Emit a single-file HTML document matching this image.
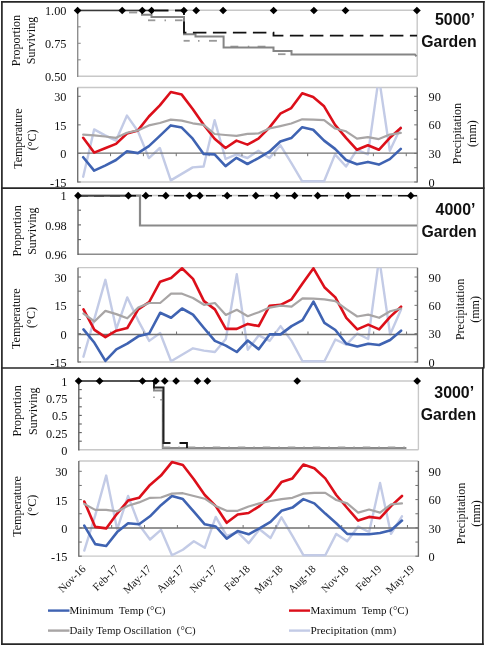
<!DOCTYPE html><html><head><meta charset="utf-8"><style>html,body{margin:0;padding:0;background:#fff;}svg{display:block;will-change:transform;}</style></head><body>
<svg width="486" height="647" viewBox="0 0 486 647">
<rect x="0" y="0" width="486" height="647" fill="#fff"/>
<line x1="77.7" y1="10.3" x2="417.2" y2="10.3" stroke="#c8c8c8" stroke-width="1.6" />
<line x1="417.2" y1="10.3" x2="417.2" y2="76.3" stroke="#c8c8c8" stroke-width="1.4" />
<line x1="77.7" y1="76.3" x2="417.2" y2="76.3" stroke="#c8c8c8" stroke-width="1.4" />
<line x1="77.7" y1="10.3" x2="77.7" y2="76.9" stroke="#8e8e8e" stroke-width="1.4" />
<line x1="77.7" y1="10.3" x2="80.7" y2="10.3" stroke="#8e8e8e" stroke-width="1.1" />
<text x="66.5" y="15.2" font-family='"Liberation Serif", serif' font-size="12.3" text-anchor="end" font-weight="normal" fill="#111" >1.00</text>
<line x1="77.7" y1="43.3" x2="80.7" y2="43.3" stroke="#8e8e8e" stroke-width="1.1" />
<text x="66.5" y="48.2" font-family='"Liberation Serif", serif' font-size="12.3" text-anchor="end" font-weight="normal" fill="#111" >0.75</text>
<text x="66.5" y="81.2" font-family='"Liberation Serif", serif' font-size="12.3" text-anchor="end" font-weight="normal" fill="#111" >0.50</text>
<line x1="77.7" y1="26.8" x2="80.7" y2="26.8" stroke="#8e8e8e" stroke-width="1.1" />
<line x1="77.7" y1="59.8" x2="80.7" y2="59.8" stroke="#8e8e8e" stroke-width="1.1" />
<line x1="77.7" y1="87.5" x2="417.2" y2="87.5" stroke="#c8c8c8" stroke-width="1.3" />
<line x1="77.7" y1="182" x2="417.2" y2="182" stroke="#c8c8c8" stroke-width="1.3" />
<line x1="77.7" y1="87.5" x2="77.7" y2="182.6" stroke="#717171" stroke-width="1.4" />
<line x1="417.2" y1="87.5" x2="417.2" y2="182.6" stroke="#717171" stroke-width="1.4" />
<line x1="77.7" y1="96.3" x2="80.7" y2="96.3" stroke="#717171" stroke-width="1" />
<line x1="414.2" y1="96.3" x2="417.2" y2="96.3" stroke="#717171" stroke-width="1" />
<line x1="414.2" y1="110.58" x2="417.2" y2="110.58" stroke="#717171" stroke-width="1" />
<line x1="77.7" y1="124.87" x2="80.7" y2="124.87" stroke="#717171" stroke-width="1" />
<line x1="414.2" y1="124.87" x2="417.2" y2="124.87" stroke="#717171" stroke-width="1" />
<line x1="414.2" y1="139.15" x2="417.2" y2="139.15" stroke="#717171" stroke-width="1" />
<line x1="77.7" y1="153.43" x2="80.7" y2="153.43" stroke="#717171" stroke-width="1" />
<line x1="414.2" y1="153.43" x2="417.2" y2="153.43" stroke="#717171" stroke-width="1" />
<line x1="414.2" y1="167.72" x2="417.2" y2="167.72" stroke="#717171" stroke-width="1" />
<line x1="77.7" y1="182" x2="80.7" y2="182" stroke="#717171" stroke-width="1" />
<line x1="414.2" y1="182" x2="417.2" y2="182" stroke="#717171" stroke-width="1" />
<text x="66.5" y="101.2" font-family='"Liberation Serif", serif' font-size="12.3" text-anchor="end" font-weight="normal" fill="#111" >30</text>
<text x="66.5" y="129.77" font-family='"Liberation Serif", serif' font-size="12.3" text-anchor="end" font-weight="normal" fill="#111" >15</text>
<text x="66.5" y="158.33" font-family='"Liberation Serif", serif' font-size="12.3" text-anchor="end" font-weight="normal" fill="#111" >0</text>
<text x="66.5" y="186.9" font-family='"Liberation Serif", serif' font-size="12.3" text-anchor="end" font-weight="normal" fill="#111" >-15</text>
<text x="428.5" y="100.9" font-family='"Liberation Serif", serif' font-size="12.3" text-anchor="start" font-weight="normal" fill="#111" >90</text>
<text x="428.5" y="129.47" font-family='"Liberation Serif", serif' font-size="12.3" text-anchor="start" font-weight="normal" fill="#111" >60</text>
<text x="428.5" y="158.03" font-family='"Liberation Serif", serif' font-size="12.3" text-anchor="start" font-weight="normal" fill="#111" >30</text>
<text x="428.5" y="186.6" font-family='"Liberation Serif", serif' font-size="12.3" text-anchor="start" font-weight="normal" fill="#111" >0</text>
<clipPath id="c0"><rect x="77.7" y="87.5" width="339.5" height="96.5"/></clipPath>
<polyline points="83.18,176.7 94.13,129.4 105.08,135.4 116.03,140.6 126.98,115.6 137.93,131.3 148.89,158.1 159.84,148 170.79,180.4 181.74,173.9 192.69,167.4 203.64,166.5 214.6,120.2 225.55,159 236.5,154.4 247.45,158 258.4,150.7 269.35,158.1 280.3,145.2 291.26,162.8 302.21,181.3 313.16,181.3 324.11,181.3 335.06,154.4 346.01,166.5 356.97,149.8 367.92,154.4 378.87,77 389.82,150.7 400.77,127.6" fill="none" stroke="#c3cbe6" stroke-width="2.4" stroke-linejoin="round" stroke-linecap="round" clip-path="url(#c0)"/>
<line x1="77.7" y1="153.2" x2="417.2" y2="153.2" stroke="#717171" stroke-width="1.3" />
<line x1="110.55" y1="153.2" x2="110.55" y2="156.2" stroke="#717171" stroke-width="1" />
<line x1="143.41" y1="153.2" x2="143.41" y2="156.2" stroke="#717171" stroke-width="1" />
<line x1="176.26" y1="153.2" x2="176.26" y2="156.2" stroke="#717171" stroke-width="1" />
<line x1="209.12" y1="153.2" x2="209.12" y2="156.2" stroke="#717171" stroke-width="1" />
<line x1="241.97" y1="153.2" x2="241.97" y2="156.2" stroke="#717171" stroke-width="1" />
<line x1="274.83" y1="153.2" x2="274.83" y2="156.2" stroke="#717171" stroke-width="1" />
<line x1="307.68" y1="153.2" x2="307.68" y2="156.2" stroke="#717171" stroke-width="1" />
<line x1="340.54" y1="153.2" x2="340.54" y2="156.2" stroke="#717171" stroke-width="1" />
<line x1="373.39" y1="153.2" x2="373.39" y2="156.2" stroke="#717171" stroke-width="1" />
<line x1="406.25" y1="153.2" x2="406.25" y2="156.2" stroke="#717171" stroke-width="1" />
<polyline points="83.18,157.2 94.13,170.6 105.08,165.6 116.03,160 126.98,151.3 137.93,153.1 148.89,146.1 159.84,135.9 170.79,125.4 181.74,127.6 192.69,138.7 203.64,153.9 214.6,154.4 225.55,166.1 236.5,157.8 247.45,164 258.4,158.1 269.35,151.7 280.3,141.5 291.26,138.1 302.21,127.2 313.16,129.8 324.11,140.6 335.06,148.9 346.01,160 356.97,164.3 367.92,161.9 378.87,164.6 389.82,159.1 400.77,148.9" fill="none" stroke="#3f63b2" stroke-width="2.6" stroke-linejoin="round" stroke-linecap="round" />
<polyline points="83.18,137.8 94.13,152.6 105.08,148.3 116.03,143.9 126.98,133.5 137.93,130.4 148.89,116.5 159.84,105.4 170.79,92 181.74,94.6 192.69,109 203.64,124.8 214.6,138.7 225.55,148 236.5,140.6 247.45,144.6 258.4,138.7 269.35,127.6 280.3,113.7 291.26,108.1 302.21,93.3 313.16,97 324.11,106.3 335.06,124.8 346.01,137.8 356.97,149.8 367.92,145.2 378.87,149.8 389.82,137.8 400.77,128" fill="none" stroke="#dc0f1a" stroke-width="2.6" stroke-linejoin="round" stroke-linecap="round" />
<polyline points="83.18,134.6 94.13,135.4 105.08,136.5 116.03,137.8 126.98,132.8 137.93,130.4 148.89,125.4 159.84,123 170.79,119.6 181.74,120.6 192.69,123.3 203.64,124.8 214.6,134 225.55,135 236.5,135.9 247.45,133.9 258.4,133.5 269.35,128.5 280.3,126.1 291.26,123.5 302.21,119.3 313.16,119.6 324.11,120.2 335.06,128.5 346.01,131.3 356.97,138.7 367.92,137.2 378.87,139.1 389.82,134.6 400.77,132.8" fill="none" stroke="#a8a5a5" stroke-width="2.2" stroke-linejoin="round" stroke-linecap="round" />
<text x="0" y="0" font-family='"Liberation Serif", serif' font-size="12" text-anchor="middle" font-weight="normal" fill="#111" transform="translate(20.3 40.55) rotate(-90)">Proportion</text>
<text x="0" y="0" font-family='"Liberation Serif", serif' font-size="12" text-anchor="middle" font-weight="normal" fill="#111" transform="translate(34.5 40.5) rotate(-90)">Surviving</text>
<text x="0" y="0" font-family='"Liberation Serif", serif' font-size="12" text-anchor="middle" font-weight="normal" fill="#111" transform="translate(21.6 138.6) rotate(-90)">Temperature</text>
<text x="0" y="0" font-family='"Liberation Serif", serif' font-size="12" text-anchor="middle" font-weight="normal" fill="#111" transform="translate(36.4 139.8) rotate(-90)">(&#176;C)</text>
<text x="0" y="0" font-family='"Liberation Serif", serif' font-size="12" text-anchor="middle" font-weight="normal" fill="#111" transform="translate(460.5 133.6) rotate(-90)">Precipitation</text>
<text x="0" y="0" font-family='"Liberation Serif", serif' font-size="12" text-anchor="middle" font-weight="normal" fill="#111" transform="translate(475.5 133.6) rotate(-90)">(mm)</text>
<text x="435" y="24.5" font-family='"Liberation Sans", sans-serif' font-size="16.3" text-anchor="start" font-weight="bold" fill="#111" textLength="39.8" lengthAdjust="spacingAndGlyphs">5000&#8217;</text>
<text x="421.3" y="47.2" font-family='"Liberation Sans", sans-serif' font-size="15.9" text-anchor="start" font-weight="bold" fill="#111" textLength="55.4" lengthAdjust="spacingAndGlyphs">Garden</text>
<line x1="1" y1="188.2" x2="484.5" y2="188.2" stroke="#262626" stroke-width="1.7" />
<line x1="78" y1="195.5" x2="417.5" y2="195.5" stroke="#c8c8c8" stroke-width="1.6" />
<line x1="417.5" y1="195.5" x2="417.5" y2="254.3" stroke="#c8c8c8" stroke-width="1.4" />
<line x1="78" y1="254.3" x2="417.5" y2="254.3" stroke="#8c8c8c" stroke-width="1.4" />
<line x1="78" y1="195.5" x2="78" y2="254.9" stroke="#5f5f5f" stroke-width="1.4" />
<line x1="78" y1="195.5" x2="81" y2="195.5" stroke="#5f5f5f" stroke-width="1.1" />
<text x="66.75" y="200.4" font-family='"Liberation Serif", serif' font-size="12.3" text-anchor="end" font-weight="normal" fill="#111" >1</text>
<line x1="78" y1="224.9" x2="81" y2="224.9" stroke="#5f5f5f" stroke-width="1.1" />
<text x="66.75" y="229.8" font-family='"Liberation Serif", serif' font-size="12.3" text-anchor="end" font-weight="normal" fill="#111" >0.98</text>
<text x="66.75" y="259.2" font-family='"Liberation Serif", serif' font-size="12.3" text-anchor="end" font-weight="normal" fill="#111" >0.96</text>
<line x1="78" y1="210.2" x2="81" y2="210.2" stroke="#5f5f5f" stroke-width="1.1" />
<line x1="78" y1="239.6" x2="81" y2="239.6" stroke="#5f5f5f" stroke-width="1.1" />
<line x1="78" y1="267.7" x2="417.5" y2="267.7" stroke="#c8c8c8" stroke-width="1.3" />
<line x1="78" y1="362" x2="417.5" y2="362" stroke="#c8c8c8" stroke-width="1.3" />
<line x1="78" y1="267.7" x2="78" y2="362.6" stroke="#717171" stroke-width="1.4" />
<line x1="417.5" y1="267.7" x2="417.5" y2="362.6" stroke="#717171" stroke-width="1.4" />
<line x1="78" y1="277" x2="81" y2="277" stroke="#717171" stroke-width="1" />
<line x1="414.5" y1="277" x2="417.5" y2="277" stroke="#717171" stroke-width="1" />
<line x1="78" y1="291.17" x2="81" y2="291.17" stroke="#717171" stroke-width="1" />
<line x1="414.5" y1="291.17" x2="417.5" y2="291.17" stroke="#717171" stroke-width="1" />
<line x1="78" y1="305.33" x2="81" y2="305.33" stroke="#717171" stroke-width="1" />
<line x1="414.5" y1="305.33" x2="417.5" y2="305.33" stroke="#717171" stroke-width="1" />
<line x1="78" y1="319.5" x2="81" y2="319.5" stroke="#717171" stroke-width="1" />
<line x1="414.5" y1="319.5" x2="417.5" y2="319.5" stroke="#717171" stroke-width="1" />
<line x1="78" y1="333.67" x2="81" y2="333.67" stroke="#717171" stroke-width="1" />
<line x1="414.5" y1="333.67" x2="417.5" y2="333.67" stroke="#717171" stroke-width="1" />
<line x1="78" y1="347.83" x2="81" y2="347.83" stroke="#717171" stroke-width="1" />
<line x1="414.5" y1="347.83" x2="417.5" y2="347.83" stroke="#717171" stroke-width="1" />
<line x1="78" y1="362" x2="81" y2="362" stroke="#717171" stroke-width="1" />
<line x1="414.5" y1="362" x2="417.5" y2="362" stroke="#717171" stroke-width="1" />
<text x="66.75" y="281.9" font-family='"Liberation Serif", serif' font-size="12.3" text-anchor="end" font-weight="normal" fill="#111" >30</text>
<text x="66.75" y="310.23" font-family='"Liberation Serif", serif' font-size="12.3" text-anchor="end" font-weight="normal" fill="#111" >15</text>
<text x="66.75" y="338.57" font-family='"Liberation Serif", serif' font-size="12.3" text-anchor="end" font-weight="normal" fill="#111" >0</text>
<text x="66.75" y="366.9" font-family='"Liberation Serif", serif' font-size="12.3" text-anchor="end" font-weight="normal" fill="#111" >-15</text>
<text x="428.5" y="281.6" font-family='"Liberation Serif", serif' font-size="12.3" text-anchor="start" font-weight="normal" fill="#111" >90</text>
<text x="428.5" y="309.93" font-family='"Liberation Serif", serif' font-size="12.3" text-anchor="start" font-weight="normal" fill="#111" >60</text>
<text x="428.5" y="338.27" font-family='"Liberation Serif", serif' font-size="12.3" text-anchor="start" font-weight="normal" fill="#111" >30</text>
<text x="428.5" y="366.6" font-family='"Liberation Serif", serif' font-size="12.3" text-anchor="start" font-weight="normal" fill="#111" >0</text>
<clipPath id="c1"><rect x="78" y="267.7" width="339.5" height="96.3"/></clipPath>
<polyline points="83.48,356.7 94.43,318.7 105.38,279.8 116.33,328.9 127.28,297.4 138.23,320.6 149.19,340.9 160.14,333 171.09,361.3 182.04,354.8 192.99,348.3 203.94,350.6 214.9,352 225.85,339 236.8,274.3 247.75,349.7 258.7,335.4 269.65,340.9 280.6,326.1 291.56,340.9 302.51,361.3 313.46,361.3 324.41,361.3 335.36,339.5 346.31,344.6 357.27,333.5 368.22,339 379.17,258 390.12,334.4 401.07,309.4" fill="none" stroke="#c3cbe6" stroke-width="2.4" stroke-linejoin="round" stroke-linecap="round" clip-path="url(#c1)"/>
<line x1="78" y1="334.5" x2="417.5" y2="334.5" stroke="#717171" stroke-width="1.3" />
<line x1="110.85" y1="331.5" x2="110.85" y2="334.5" stroke="#717171" stroke-width="1" />
<line x1="143.71" y1="331.5" x2="143.71" y2="334.5" stroke="#717171" stroke-width="1" />
<line x1="176.56" y1="331.5" x2="176.56" y2="334.5" stroke="#717171" stroke-width="1" />
<line x1="209.42" y1="331.5" x2="209.42" y2="334.5" stroke="#717171" stroke-width="1" />
<line x1="242.27" y1="331.5" x2="242.27" y2="334.5" stroke="#717171" stroke-width="1" />
<line x1="275.13" y1="331.5" x2="275.13" y2="334.5" stroke="#717171" stroke-width="1" />
<line x1="307.98" y1="331.5" x2="307.98" y2="334.5" stroke="#717171" stroke-width="1" />
<line x1="340.84" y1="331.5" x2="340.84" y2="334.5" stroke="#717171" stroke-width="1" />
<line x1="373.69" y1="331.5" x2="373.69" y2="334.5" stroke="#717171" stroke-width="1" />
<line x1="406.55" y1="331.5" x2="406.55" y2="334.5" stroke="#717171" stroke-width="1" />
<polyline points="83.48,329.4 94.43,342.8 105.38,360.9 116.33,349.3 127.28,343.7 138.23,336.3 149.19,333.5 160.14,312.8 171.09,317.8 182.04,308.5 192.99,314.6 203.94,328 214.9,340.9 225.85,345.6 236.8,352 247.75,340.5 258.7,349.3 269.65,334.4 280.6,334.4 291.56,326.1 302.51,320.2 313.46,301.7 324.41,322.8 335.36,330 346.31,343.7 357.27,346.5 368.22,343.7 379.17,345 390.12,340 401.07,330.7" fill="none" stroke="#3f63b2" stroke-width="2.6" stroke-linejoin="round" stroke-linecap="round" />
<polyline points="83.48,309.4 94.43,329.8 105.38,337.2 116.33,330.7 127.28,328 138.23,309.4 149.19,302 160.14,281.7 171.09,278 182.04,268.3 192.99,278.9 203.94,301.1 214.9,309.4 225.85,328.9 236.8,328.9 247.75,323.9 258.7,326.1 269.65,305.7 280.6,304.8 291.56,299.3 302.51,283.5 313.46,268.3 324.41,287.2 335.36,297.4 346.31,317.8 357.27,329.4 368.22,324.6 379.17,329.4 390.12,316.9 401.07,306.7" fill="none" stroke="#dc0f1a" stroke-width="2.6" stroke-linejoin="round" stroke-linecap="round" />
<polyline points="83.48,313.5 94.43,321.5 105.38,310.9 116.33,314.1 127.28,318.3 138.23,307.6 149.19,303 160.14,303 171.09,293.7 182.04,293.7 192.99,298 203.94,304.8 214.9,303 225.85,315 236.8,309.8 247.75,316.2 258.7,312.2 269.65,307.6 280.6,305.7 291.56,306.7 302.51,298.3 313.46,298.7 324.41,299.3 335.36,301.1 346.31,309.1 357.27,316.5 368.22,314.6 379.17,317.8 390.12,311.3 401.07,308.5" fill="none" stroke="#a8a5a5" stroke-width="2.2" stroke-linejoin="round" stroke-linecap="round" />
<text x="0" y="0" font-family='"Liberation Serif", serif' font-size="12" text-anchor="middle" font-weight="normal" fill="#111" transform="translate(20.7 230.9) rotate(-90)">Proportion</text>
<text x="0" y="0" font-family='"Liberation Serif", serif' font-size="12" text-anchor="middle" font-weight="normal" fill="#111" transform="translate(35.5 231.2) rotate(-90)">Surviving</text>
<text x="0" y="0" font-family='"Liberation Serif", serif' font-size="12" text-anchor="middle" font-weight="normal" fill="#111" transform="translate(20.4 318.65) rotate(-90)">Temperature</text>
<text x="0" y="0" font-family='"Liberation Serif", serif' font-size="12" text-anchor="middle" font-weight="normal" fill="#111" transform="translate(34.9 317.5) rotate(-90)">(&#176;C)</text>
<text x="0" y="0" font-family='"Liberation Serif", serif' font-size="12" text-anchor="middle" font-weight="normal" fill="#111" transform="translate(464.2 309.4) rotate(-90)">Precipitation</text>
<text x="0" y="0" font-family='"Liberation Serif", serif' font-size="12" text-anchor="middle" font-weight="normal" fill="#111" transform="translate(479 309.4) rotate(-90)">(mm)</text>
<text x="435.6" y="214.5" font-family='"Liberation Sans", sans-serif' font-size="16.3" text-anchor="start" font-weight="bold" fill="#111" textLength="39.8" lengthAdjust="spacingAndGlyphs">4000&#8217;</text>
<text x="421.4" y="236.9" font-family='"Liberation Sans", sans-serif' font-size="15.9" text-anchor="start" font-weight="bold" fill="#111" textLength="55.4" lengthAdjust="spacingAndGlyphs">Garden</text>
<line x1="1" y1="368" x2="483.7" y2="368" stroke="#262626" stroke-width="1.7" />
<line x1="78.8" y1="381" x2="418.4" y2="381" stroke="#c8c8c8" stroke-width="1.6" />
<line x1="418.4" y1="381" x2="418.4" y2="449.8" stroke="#c8c8c8" stroke-width="1.4" />
<line x1="78.8" y1="449.8" x2="418.4" y2="449.8" stroke="#c8c8c8" stroke-width="1.4" />
<line x1="78.8" y1="381" x2="78.8" y2="450.4" stroke="#5f5f5f" stroke-width="1.4" />
<line x1="78.8" y1="381" x2="81.8" y2="381" stroke="#5f5f5f" stroke-width="1.1" />
<text x="67.44" y="385.9" font-family='"Liberation Serif", serif' font-size="12.3" text-anchor="end" font-weight="normal" fill="#111" >1</text>
<line x1="78.8" y1="398.2" x2="81.8" y2="398.2" stroke="#5f5f5f" stroke-width="1.1" />
<text x="67.44" y="403.1" font-family='"Liberation Serif", serif' font-size="12.3" text-anchor="end" font-weight="normal" fill="#111" >0.75</text>
<line x1="78.8" y1="415.4" x2="81.8" y2="415.4" stroke="#5f5f5f" stroke-width="1.1" />
<text x="67.44" y="420.3" font-family='"Liberation Serif", serif' font-size="12.3" text-anchor="end" font-weight="normal" fill="#111" >0.5</text>
<line x1="78.8" y1="432.6" x2="81.8" y2="432.6" stroke="#5f5f5f" stroke-width="1.1" />
<text x="67.44" y="437.5" font-family='"Liberation Serif", serif' font-size="12.3" text-anchor="end" font-weight="normal" fill="#111" >0.25</text>
<text x="67.44" y="454.7" font-family='"Liberation Serif", serif' font-size="12.3" text-anchor="end" font-weight="normal" fill="#111" >0</text>
<line x1="78.8" y1="389.6" x2="81.8" y2="389.6" stroke="#5f5f5f" stroke-width="1.1" />
<line x1="78.8" y1="406.8" x2="81.8" y2="406.8" stroke="#5f5f5f" stroke-width="1.1" />
<line x1="78.8" y1="424" x2="81.8" y2="424" stroke="#5f5f5f" stroke-width="1.1" />
<line x1="78.8" y1="441.2" x2="81.8" y2="441.2" stroke="#5f5f5f" stroke-width="1.1" />
<line x1="78.8" y1="461" x2="418.4" y2="461" stroke="#c8c8c8" stroke-width="1.3" />
<line x1="78.8" y1="556.2" x2="418.4" y2="556.2" stroke="#c8c8c8" stroke-width="1.3" />
<line x1="78.8" y1="461" x2="78.8" y2="556.8" stroke="#717171" stroke-width="1.4" />
<line x1="418.4" y1="461" x2="418.4" y2="556.8" stroke="#717171" stroke-width="1.4" />
<line x1="78.8" y1="471.3" x2="81.8" y2="471.3" stroke="#717171" stroke-width="1" />
<line x1="415.4" y1="471.3" x2="418.4" y2="471.3" stroke="#717171" stroke-width="1" />
<line x1="78.8" y1="485.45" x2="81.8" y2="485.45" stroke="#717171" stroke-width="1" />
<line x1="415.4" y1="485.45" x2="418.4" y2="485.45" stroke="#717171" stroke-width="1" />
<line x1="78.8" y1="499.6" x2="81.8" y2="499.6" stroke="#717171" stroke-width="1" />
<line x1="415.4" y1="499.6" x2="418.4" y2="499.6" stroke="#717171" stroke-width="1" />
<line x1="78.8" y1="513.75" x2="81.8" y2="513.75" stroke="#717171" stroke-width="1" />
<line x1="415.4" y1="513.75" x2="418.4" y2="513.75" stroke="#717171" stroke-width="1" />
<line x1="78.8" y1="527.9" x2="81.8" y2="527.9" stroke="#717171" stroke-width="1" />
<line x1="415.4" y1="527.9" x2="418.4" y2="527.9" stroke="#717171" stroke-width="1" />
<line x1="78.8" y1="542.05" x2="81.8" y2="542.05" stroke="#717171" stroke-width="1" />
<line x1="415.4" y1="542.05" x2="418.4" y2="542.05" stroke="#717171" stroke-width="1" />
<line x1="78.8" y1="556.2" x2="81.8" y2="556.2" stroke="#717171" stroke-width="1" />
<line x1="415.4" y1="556.2" x2="418.4" y2="556.2" stroke="#717171" stroke-width="1" />
<text x="67.44" y="476.2" font-family='"Liberation Serif", serif' font-size="12.3" text-anchor="end" font-weight="normal" fill="#111" >30</text>
<text x="67.44" y="504.5" font-family='"Liberation Serif", serif' font-size="12.3" text-anchor="end" font-weight="normal" fill="#111" >15</text>
<text x="67.44" y="532.8" font-family='"Liberation Serif", serif' font-size="12.3" text-anchor="end" font-weight="normal" fill="#111" >0</text>
<text x="67.44" y="561.1" font-family='"Liberation Serif", serif' font-size="12.3" text-anchor="end" font-weight="normal" fill="#111" >-15</text>
<text x="428.5" y="475.9" font-family='"Liberation Serif", serif' font-size="12.3" text-anchor="start" font-weight="normal" fill="#111" >90</text>
<text x="428.5" y="504.2" font-family='"Liberation Serif", serif' font-size="12.3" text-anchor="start" font-weight="normal" fill="#111" >60</text>
<text x="428.5" y="532.5" font-family='"Liberation Serif", serif' font-size="12.3" text-anchor="start" font-weight="normal" fill="#111" >30</text>
<text x="428.5" y="560.8" font-family='"Liberation Serif", serif' font-size="12.3" text-anchor="start" font-weight="normal" fill="#111" >0</text>
<clipPath id="c2"><rect x="78.8" y="461" width="339.6" height="97.2"/></clipPath>
<polyline points="84.28,550.6 95.23,515.4 106.19,475.6 117.14,529.3 128.1,496 139.05,524.7 150.01,539.5 160.96,529.8 171.92,555.2 182.87,549.7 193.83,541.3 204.78,547.8 215.74,516.9 226.69,535.8 237.65,532.1 248.6,543.2 259.55,529.3 270.51,538 281.46,517.3 292.42,535.8 303.37,555.2 314.33,555.2 325.28,555.2 336.24,533.9 347.19,541.3 358.15,526.5 369.1,532.1 380.06,483 391.01,533.9 401.97,516.3" fill="none" stroke="#c3cbe6" stroke-width="2.4" stroke-linejoin="round" stroke-linecap="round" clip-path="url(#c2)"/>
<line x1="78.8" y1="528" x2="418.4" y2="528" stroke="#717171" stroke-width="1.3" />
<line x1="111.66" y1="525" x2="111.66" y2="528" stroke="#717171" stroke-width="1" />
<line x1="144.53" y1="525" x2="144.53" y2="528" stroke="#717171" stroke-width="1" />
<line x1="177.39" y1="525" x2="177.39" y2="528" stroke="#717171" stroke-width="1" />
<line x1="210.26" y1="525" x2="210.26" y2="528" stroke="#717171" stroke-width="1" />
<line x1="243.12" y1="525" x2="243.12" y2="528" stroke="#717171" stroke-width="1" />
<line x1="275.99" y1="525" x2="275.99" y2="528" stroke="#717171" stroke-width="1" />
<line x1="308.85" y1="525" x2="308.85" y2="528" stroke="#717171" stroke-width="1" />
<line x1="341.72" y1="525" x2="341.72" y2="528" stroke="#717171" stroke-width="1" />
<line x1="374.58" y1="525" x2="374.58" y2="528" stroke="#717171" stroke-width="1" />
<line x1="407.45" y1="525" x2="407.45" y2="528" stroke="#717171" stroke-width="1" />
<polyline points="84.28,525.6 95.23,544.1 106.19,546 117.14,532.1 128.1,523.2 139.05,524.3 150.01,516.3 160.96,505.2 171.92,496 182.87,499.1 193.83,511.7 204.78,524.3 215.74,526.5 226.69,538.6 237.65,531.1 248.6,534.3 259.55,528.4 270.51,521.9 281.46,510.8 292.42,507.6 303.37,499.1 314.33,503.4 325.28,513.6 336.24,523.2 347.19,533.9 358.15,534.3 369.1,534.3 380.06,533 391.01,530.2 401.97,520.6" fill="none" stroke="#3f63b2" stroke-width="2.6" stroke-linejoin="round" stroke-linecap="round" />
<polyline points="84.28,501.5 95.23,526.9 106.19,528.4 117.14,513.6 128.1,500.6 139.05,497.8 150.01,484.9 160.96,475.6 171.92,462.1 182.87,465 193.83,479.3 204.78,495 215.74,506.1 226.69,522.8 237.65,514.5 248.6,513 259.55,506.1 270.51,496 281.46,482.1 292.42,478.4 303.37,464.5 314.33,468.2 325.28,478.4 336.24,495 347.19,508 358.15,520.6 369.1,516.9 380.06,518.2 391.01,506.1 401.97,496" fill="none" stroke="#dc0f1a" stroke-width="2.6" stroke-linejoin="round" stroke-linecap="round" />
<polyline points="84.28,503.9 95.23,509.9 106.19,509.9 117.14,511.3 128.1,505.8 139.05,502.4 150.01,497.8 160.96,497.5 171.92,493.6 182.87,493.2 193.83,496 204.78,498.7 215.74,506.1 226.69,510.8 237.65,510.8 248.6,506.5 259.55,503.4 270.51,501 281.46,499.1 292.42,497.8 303.37,493.6 314.33,492.8 325.28,492.8 336.24,500 347.19,503.4 358.15,512.6 369.1,509.5 380.06,512.6 391.01,504.3 401.97,503.4" fill="none" stroke="#a8a5a5" stroke-width="2.2" stroke-linejoin="round" stroke-linecap="round" />
<text x="0" y="0" font-family='"Liberation Serif", serif' font-size="12" text-anchor="middle" font-weight="normal" fill="#111" transform="translate(21.3 410.9) rotate(-90)">Proportion</text>
<text x="0" y="0" font-family='"Liberation Serif", serif' font-size="12" text-anchor="middle" font-weight="normal" fill="#111" transform="translate(36.8 411.25) rotate(-90)">Surviving</text>
<text x="0" y="0" font-family='"Liberation Serif", serif' font-size="12" text-anchor="middle" font-weight="normal" fill="#111" transform="translate(20.5 506.5) rotate(-90)">Temperature</text>
<text x="0" y="0" font-family='"Liberation Serif", serif' font-size="12" text-anchor="middle" font-weight="normal" fill="#111" transform="translate(35.9 505.25) rotate(-90)">(&#176;C)</text>
<text x="0" y="0" font-family='"Liberation Serif", serif' font-size="12" text-anchor="middle" font-weight="normal" fill="#111" transform="translate(464.5 513.5) rotate(-90)">Precipitation</text>
<text x="0" y="0" font-family='"Liberation Serif", serif' font-size="12" text-anchor="middle" font-weight="normal" fill="#111" transform="translate(479.5 513.5) rotate(-90)">(mm)</text>
<text x="434.3" y="397.5" font-family='"Liberation Sans", sans-serif' font-size="16.3" text-anchor="start" font-weight="bold" fill="#111" textLength="39.8" lengthAdjust="spacingAndGlyphs">3000&#8217;</text>
<text x="420.7" y="420.2" font-family='"Liberation Sans", sans-serif' font-size="15.9" text-anchor="start" font-weight="bold" fill="#111" textLength="55.4" lengthAdjust="spacingAndGlyphs">Garden</text>
<line x1="129" y1="12.5" x2="137.2" y2="12.5" stroke="#999" stroke-width="1.8" />
<line x1="148" y1="20.3" x2="155.3" y2="20.3" stroke="#999" stroke-width="1.8" />
<line x1="164.5" y1="20.3" x2="166" y2="20.3" stroke="#999" stroke-width="1.8" />
<line x1="175" y1="20.3" x2="182.5" y2="20.3" stroke="#999" stroke-width="1.8" />
<line x1="183.6" y1="40.8" x2="189.7" y2="40.8" stroke="#999" stroke-width="1.8" />
<line x1="198" y1="40.8" x2="199.5" y2="40.8" stroke="#999" stroke-width="1.8" />
<line x1="209" y1="40.8" x2="216.9" y2="40.8" stroke="#999" stroke-width="1.8" />
<line x1="230.4" y1="46.6" x2="238.3" y2="46.6" stroke="#999" stroke-width="1.8" />
<line x1="247.8" y1="46.6" x2="249.3" y2="46.6" stroke="#999" stroke-width="1.8" />
<line x1="257.6" y1="46.6" x2="265.5" y2="46.6" stroke="#999" stroke-width="1.8" />
<line x1="278" y1="54.2" x2="285.5" y2="54.2" stroke="#999" stroke-width="1.8" />
<path d="M142 10.5 L142 14.8 L151.5 14.8 L151.5 17 L184 17 L184 34.2 L195.5 34.2 L195.5 36.4 L223.6 36.4 L223.6 47.5 L273.5 47.5 L273.5 51 L291.5 51 L291.5 54.6 L415 54.6 L416.5 56.3" fill="none" stroke="#858585" stroke-width="2" />
<path d="M155 10.5 L184 10.5 L184 32.6 L273.5 32.6 L273.5 35.6 L417 35.6" fill="none" stroke="#111" stroke-width="1.8" stroke-dasharray="13.5 6.5"/>
<line x1="77.7" y1="10.5" x2="152" y2="10.5" stroke="#3a3a3a" stroke-width="1.5" />
<path d="M77.6 6.65L81.45 10.5L77.6 14.35L73.75 10.5Z" fill="#000"/>
<path d="M122.2 6.65L126.05 10.5L122.2 14.35L118.35 10.5Z" fill="#000"/>
<path d="M142.3 6.65L146.15 10.5L142.3 14.35L138.45 10.5Z" fill="#000"/>
<path d="M151.6 6.65L155.45 10.5L151.6 14.35L147.75 10.5Z" fill="#000"/>
<path d="M183.9 6.65L187.75 10.5L183.9 14.35L180.05 10.5Z" fill="#000"/>
<path d="M196.2 6.65L200.05 10.5L196.2 14.35L192.35 10.5Z" fill="#000"/>
<path d="M223.1 6.65L226.95 10.5L223.1 14.35L219.25 10.5Z" fill="#000"/>
<path d="M273.6 6.65L277.45 10.5L273.6 14.35L269.75 10.5Z" fill="#000"/>
<path d="M313.9 6.65L317.75 10.5L313.9 14.35L310.05 10.5Z" fill="#000"/>
<path d="M345.5 6.65L349.35 10.5L345.5 14.35L341.65 10.5Z" fill="#000"/>
<path d="M416.9 6.65L420.75 10.5L416.9 14.35L413.05 10.5Z" fill="#000"/>
<path d="M78 195.7 L140 195.7 L140 225.5 L417 225.5" fill="none" stroke="#8a8a8a" stroke-width="2.2" />
<path d="M78 195.7 L417 195.7" fill="none" stroke="#111" stroke-width="1.6" stroke-dasharray="10 6"/>
<line x1="78" y1="195.7" x2="128" y2="195.7" stroke="#444" stroke-width="1.6" />
<path d="M78 191.85L81.85 195.7L78 199.55L74.15 195.7Z" fill="#000"/>
<path d="M128.4 191.85L132.25 195.7L128.4 199.55L124.55 195.7Z" fill="#000"/>
<path d="M145.8 191.85L149.65 195.7L145.8 199.55L141.95 195.7Z" fill="#000"/>
<path d="M165.8 191.85L169.65 195.7L165.8 199.55L161.95 195.7Z" fill="#000"/>
<path d="M189.4 191.85L193.25 195.7L189.4 199.55L185.55 195.7Z" fill="#000"/>
<path d="M199.8 191.85L203.65 195.7L199.8 199.55L195.95 195.7Z" fill="#000"/>
<path d="M227.2 191.85L231.05 195.7L227.2 199.55L223.35 195.7Z" fill="#000"/>
<path d="M255.8 191.85L259.65 195.7L255.8 199.55L251.95 195.7Z" fill="#000"/>
<path d="M276.7 191.85L280.55 195.7L276.7 199.55L272.85 195.7Z" fill="#000"/>
<path d="M294.6 191.85L298.45 195.7L294.6 199.55L290.75 195.7Z" fill="#000"/>
<path d="M317.7 191.85L321.55 195.7L317.7 199.55L313.85 195.7Z" fill="#000"/>
<path d="M348.2 191.85L352.05 195.7L348.2 199.55L344.35 195.7Z" fill="#000"/>
<path d="M410.8 191.85L414.65 195.7L410.8 199.55L406.95 195.7Z" fill="#000"/>
<path d="M78.8 381 L154 381 L154 390.5 L162.8 390.5 L162.8 448 L406.4 448" fill="none" stroke="#8a8a8a" stroke-width="2.0" />
<path d="M154 381 L154 399.8 L163 399.8 L163 447.2 L406.4 447.2" fill="none" stroke="#9a9a9a" stroke-width="1.6" stroke-dasharray="7.5 8 1.5 8"/>
<path d="M130 381 L154 381 L154 387.4 L163.5 387.4 L163.5 443 L170.5 443" fill="none" stroke="#222" stroke-width="2.0" />
<path d="M179.5 443 L187 443 L187 448" fill="none" stroke="#111" stroke-width="1.8" />
<line x1="78.8" y1="381" x2="154" y2="381" stroke="#444" stroke-width="1.6" />
<path d="M78.6 377.15L82.45 381L78.6 384.85L74.75 381Z" fill="#000"/>
<path d="M99.6 377.15L103.45 381L99.6 384.85L95.75 381Z" fill="#000"/>
<path d="M142.5 377.15L146.35 381L142.5 384.85L138.65 381Z" fill="#000"/>
<path d="M155.8 377.15L159.65 381L155.8 384.85L151.95 381Z" fill="#000"/>
<path d="M164.8 377.15L168.65 381L164.8 384.85L160.95 381Z" fill="#000"/>
<path d="M176.1 377.15L179.95 381L176.1 384.85L172.25 381Z" fill="#000"/>
<path d="M197.4 377.15L201.25 381L197.4 384.85L193.55 381Z" fill="#000"/>
<path d="M207.4 377.15L211.25 381L207.4 384.85L203.55 381Z" fill="#000"/>
<path d="M297.2 377.15L301.05 381L297.2 384.85L293.35 381Z" fill="#000"/>
<path d="M417.2 377.15L421.05 381L417.2 384.85L413.35 381Z" fill="#000"/>
<text x="0" y="0" font-family='"Liberation Serif", serif' font-size="11" text-anchor="end" font-weight="normal" fill="#111" transform="translate(86.28 569.5) rotate(-45)">Nov-16</text>
<text x="0" y="0" font-family='"Liberation Serif", serif' font-size="11" text-anchor="end" font-weight="normal" fill="#111" transform="translate(119.14 569.5) rotate(-45)">Feb-17</text>
<text x="0" y="0" font-family='"Liberation Serif", serif' font-size="11" text-anchor="end" font-weight="normal" fill="#111" transform="translate(152.01 569.5) rotate(-45)">May-17</text>
<text x="0" y="0" font-family='"Liberation Serif", serif' font-size="11" text-anchor="end" font-weight="normal" fill="#111" transform="translate(184.87 569.5) rotate(-45)">Aug-17</text>
<text x="0" y="0" font-family='"Liberation Serif", serif' font-size="11" text-anchor="end" font-weight="normal" fill="#111" transform="translate(217.74 569.5) rotate(-45)">Nov-17</text>
<text x="0" y="0" font-family='"Liberation Serif", serif' font-size="11" text-anchor="end" font-weight="normal" fill="#111" transform="translate(250.6 569.5) rotate(-45)">Feb-18</text>
<text x="0" y="0" font-family='"Liberation Serif", serif' font-size="11" text-anchor="end" font-weight="normal" fill="#111" transform="translate(283.46 569.5) rotate(-45)">May-18</text>
<text x="0" y="0" font-family='"Liberation Serif", serif' font-size="11" text-anchor="end" font-weight="normal" fill="#111" transform="translate(316.33 569.5) rotate(-45)">Aug-18</text>
<text x="0" y="0" font-family='"Liberation Serif", serif' font-size="11" text-anchor="end" font-weight="normal" fill="#111" transform="translate(349.19 569.5) rotate(-45)">Nov-18</text>
<text x="0" y="0" font-family='"Liberation Serif", serif' font-size="11" text-anchor="end" font-weight="normal" fill="#111" transform="translate(382.06 569.5) rotate(-45)">Feb-19</text>
<text x="0" y="0" font-family='"Liberation Serif", serif' font-size="11" text-anchor="end" font-weight="normal" fill="#111" transform="translate(414.92 569.5) rotate(-45)">May-19</text>
<line x1="48" y1="610.6" x2="69.5" y2="610.6" stroke="#3f63b2" stroke-width="2.4" />
<text x="69.5" y="613.6" font-family='"Liberation Serif", serif' font-size="11" text-anchor="start" font-weight="normal" fill="#111" >Minimum&#160; Temp (&#176;C)</text>
<line x1="48" y1="630.6" x2="69.5" y2="630.6" stroke="#a8a5a5" stroke-width="2.4" />
<text x="69.5" y="633.5" font-family='"Liberation Serif", serif' font-size="10.9" text-anchor="start" font-weight="normal" fill="#111" >Daily Temp Oscillation&#160; (&#176;C)</text>
<line x1="289" y1="610.6" x2="310" y2="610.6" stroke="#dc0f1a" stroke-width="2.4" />
<text x="310.5" y="613.6" font-family='"Liberation Serif", serif' font-size="11" text-anchor="start" font-weight="normal" fill="#111" >Maximum&#160; Temp (&#176;C)</text>
<line x1="289" y1="630.6" x2="310" y2="630.6" stroke="#c3cbe6" stroke-width="2.4" />
<text x="310.5" y="633.6" font-family='"Liberation Serif", serif' font-size="11.3" text-anchor="start" font-weight="normal" fill="#111" >Precipitation (mm)</text>
<line x1="1.9" y1="1" x2="1.9" y2="645" stroke="#262626" stroke-width="1.7" />
<line x1="1" y1="1.9" x2="484.6" y2="1.9" stroke="#262626" stroke-width="1.7" />
<line x1="483.8" y1="1" x2="483.8" y2="368.5" stroke="#262626" stroke-width="1.7" />
<line x1="482.85" y1="367.5" x2="482.85" y2="645" stroke="#262626" stroke-width="1.7" />
<line x1="1" y1="644.1" x2="483.7" y2="644.1" stroke="#262626" stroke-width="1.7" />
</svg></body></html>
